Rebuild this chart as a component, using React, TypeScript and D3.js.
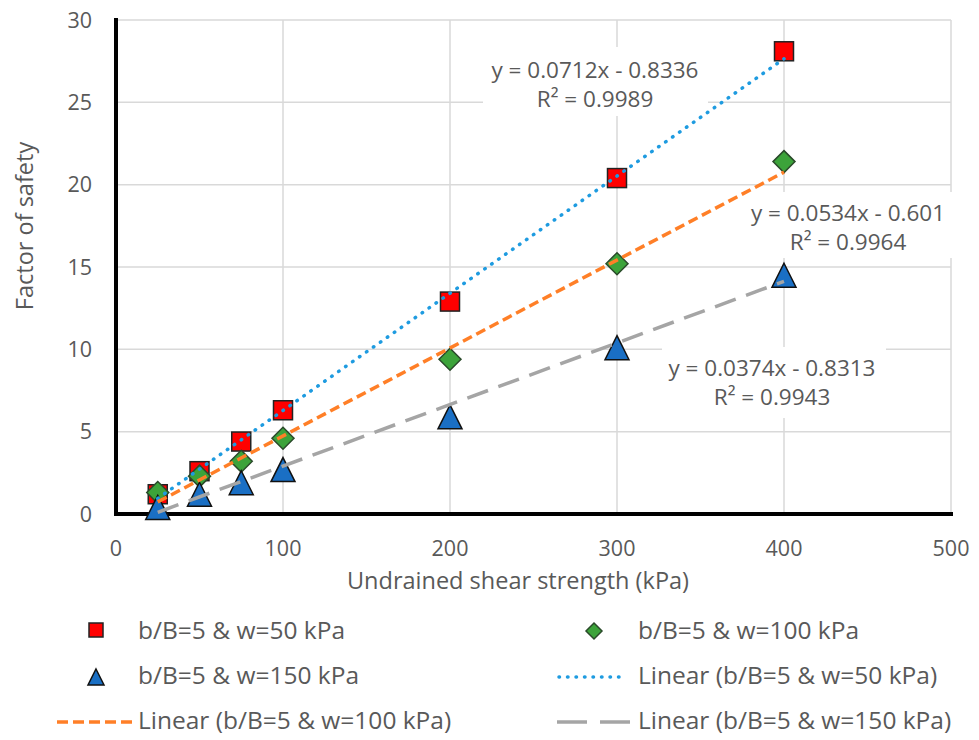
import React from "react";
import * as d3 from "d3";

const xValues = [25, 50, 75, 100, 200, 300, 400];
const seriesW50 = [1.2, 2.6, 4.4, 6.3, 12.9, 20.4, 28.1];
const seriesW100 = [1.3, 2.3, 3.2, 4.6, 9.4, 15.2, 21.4];
const seriesW150 = [0.4, 1.2, 1.9, 2.7, 5.9, 10.1, 14.5];
const seriesNames = ["b/B=5 & w=50 kPa", "b/B=5 & w=100 kPa", "b/B=5 & w=150 kPa"];
const slopes = [0.0712, 0.0534, 0.0374];
const intercepts = [-0.8336, -0.601, -0.8313];
const eqLabels = ["y = 0.0712x - 0.8336", "y = 0.0534x - 0.601", "y = 0.0374x - 0.8313"];
const r2Labels = ["R² = 0.9989", "R² = 0.9964", "R² = 0.9943"];
const xTicks = [0, 100, 200, 300, 400, 500];
const yTicks = [0, 5, 10, 15, 20, 25, 30];

const W = 979, H = 740;
const L = 116, R = 951, T = 20, B = 514;
const FONT = "'Open Sans', 'Liberation Sans', sans-serif";
const TXT = "#595959";

export default function App() {
  const x = d3.scaleLinear().domain([0, 500]).range([L, R]);
  const y = d3.scaleLinear().domain([0, 30]).range([B, T]);
  const all = [seriesW50, seriesW100, seriesW150];
  const lineColors = ["#1E9BE0", "#FF7F27", "#A5A5A5"];
  const dashes = ["0.5 8", "10 5", "22 11"];
  const widths = [3.5, 3.5, 3.5];
  const line = d3.line<[number, number]>().x(d => x(d[0])).y(d => y(d[1]));

  const square = (cx: number, cy: number, s: number, k: string) => (
    <rect key={k} x={cx - s / 2} y={cy - s / 2} width={s} height={s} fill="#FF0000" stroke="#222" strokeWidth={1.5} />
  );
  const diamond = (cx: number, cy: number, s: number, k: string) => (
    <path key={k} d={`M${cx},${cy - s / 2}L${cx + s / 2},${cy}L${cx},${cy + s / 2}L${cx - s / 2},${cy}Z`} fill="#3CA33A" stroke="#2a4a2a" strokeWidth={1.5} />
  );
  const tri = (cx: number, cy: number, s: number, k: string) => (
    <path key={k} d={`M${cx},${cy - s / 2}L${cx + s / 2},${cy + s / 2}L${cx - s / 2},${cy + s / 2}Z`} fill="#1A6FC4" stroke="#111" strokeWidth={1.5} />
  );
  const markers = [square, diamond, tri];
  const msize = [19, 22, 24];

  const labelPos = [
    { cx: 595, cy: 70 },
    { cx: 848, cy: 213 },
    { cx: 772, cy: 368 },
  ];
  const boxes = [
    { x: 483, y: 47, w: 225, h: 69 },
    { x: 745, y: 192, w: 207, h: 66 },
    { x: 662, y: 347, w: 224, h: 71 },
  ];
  const legendFont = 24.5;

  return (
    <svg width={W} height={H} style={{ position: "absolute", left: 0, top: 0, background: "#fff" }} fontFamily={FONT}>
      <rect width={W} height={H} fill="#fff" />
      {xTicks.map(t => (
        <line key={"gx" + t} x1={x(t)} x2={x(t)} y1={T} y2={B} stroke="#D9D9D9" strokeWidth={1.5} />
      ))}
      {yTicks.map(t => (
        <line key={"gy" + t} x1={L} x2={R} y1={y(t)} y2={y(t)} stroke="#D9D9D9" strokeWidth={1.5} />
      ))}
      {boxes.map((b, i) => (
        <rect key={"bx" + i} x={b.x} y={b.y} width={b.w} height={b.h} fill="#fff" />
      ))}
      {eqLabels.map((e, i) => (
        <g key={"lb" + i} fill={TXT} fontSize={22.5} textAnchor="middle">
          <text x={labelPos[i].cx} y={labelPos[i].cy} dy="0.35em">{e}</text>
          <text x={labelPos[i].cx} y={labelPos[i].cy + 29.5} dy="0.35em">{r2Labels[i]}</text>
        </g>
      ))}
      <line x1={L} x2={L} y1={T - 2} y2={B + 2} stroke="#000" strokeWidth={4} />
      <line x1={L - 2} x2={R + 2} y1={B} y2={B} stroke="#000" strokeWidth={4} />
      {all.map((s, i) => s.map((v, j) => markers[i](x(xValues[j]), y(v), msize[i], `m${i}-${j}`)))}
      {slopes.map((m, i) => {
        const x0 = xValues[0], x1 = xValues[xValues.length - 1];
        const pts: [number, number][] = [[x0, m * x0 + intercepts[i]], [x1, m * x1 + intercepts[i]]];
        return (
          <path key={"tl" + i} d={line(pts) || ""} fill="none" stroke={lineColors[i]} strokeWidth={widths[i]} strokeDasharray={dashes[i]} strokeLinecap={i === 0 ? "round" : "butt"} />
        );
      })}
      {xTicks.map(t => (
        <text key={"xt" + t} x={x(t)} y={548} dy="0.35em" textAnchor="middle" fill={TXT} fontSize={21.5}>{t}</text>
      ))}
      {yTicks.map(t => (
        <text key={"yt" + t} x={92} y={y(t)} dy="0.35em" textAnchor="end" fill={TXT} fontSize={21.5}>{t}</text>
      ))}
      <text x={518} y={581} dy="0.35em" textAnchor="middle" fill={TXT} fontSize={23.5}>Undrained shear strength (kPa)</text>
      <text transform={`translate(25,226) rotate(-90)`} dy="0.35em" textAnchor="middle" fill={TXT} fontSize={23.5}>Factor of safety</text>

      {/* legend */}
      {square(96, 630, 14, "lg0")}
      <text x={138} y={630} dy="0.35em" fill={TXT} fontSize={legendFont}>{seriesNames[0]}</text>
      {diamond(594, 631, 16, "lg1")}
      <text x={638} y={630} dy="0.35em" fill={TXT} fontSize={legendFont}>{seriesNames[1]}</text>
      {tri(96, 677, 16, "lg2")}
      <text x={138} y={675} dy="0.35em" fill={TXT} fontSize={legendFont}>{seriesNames[2]}</text>
      <line x1={559} x2={626} y1={677} y2={677} stroke={lineColors[0]} strokeWidth={3.5} strokeDasharray="0.5 8" strokeLinecap="round" />
      <text x={638} y={675} dy="0.35em" fill={TXT} fontSize={legendFont}>{`Linear (${seriesNames[0]})`}</text>
      <line x1={57} x2={132} y1={722} y2={722} stroke={lineColors[1]} strokeWidth={3.5} strokeDasharray="11 5" />
      <text x={138} y={720} dy="0.35em" fill={TXT} fontSize={legendFont}>{`Linear (${seriesNames[1]})`}</text>
      <line x1={557} x2={630} y1={722} y2={722} stroke={lineColors[2]} strokeWidth={3.5} strokeDasharray="30 13" />
      <text x={638} y={720} dy="0.35em" fill={TXT} fontSize={legendFont}>{`Linear (${seriesNames[2]})`}</text>
    </svg>
  );
}
